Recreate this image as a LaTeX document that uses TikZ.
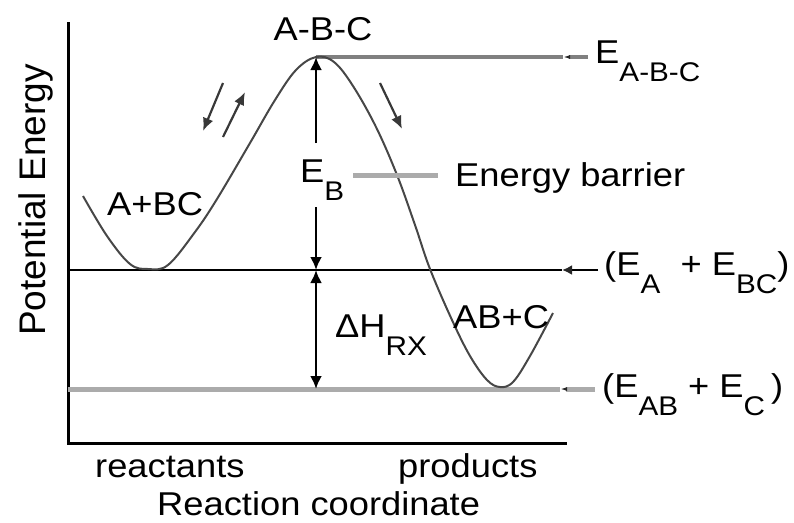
\documentclass[tikz,border=0pt]{standalone}
\usepackage{fontspec}
\setmainfont{Liberation Sans}
\usetikzlibrary{arrows.meta}
\newcommand\lsub[1]{\raisebox{-0.55em}{\fontsize{27}{27}\selectfont #1}}
\begin{document}
\begin{tikzpicture}[x=1pt,y=-1pt,
  lbl/.style={font=\fontsize{33}{36}\selectfont, inner sep=0pt, xscale=1.1},
  axisline/.style={line width=3pt, black},
  blackline/.style={line width=2.5pt, black},
  grayline/.style={line width=5pt, color=black!33},
  topline/.style={line width=3.5pt, color=black!50},
  curveline/.style={line width=2pt, color=black!72},
  tip/.style={-{Latex[length=13pt,width=12pt]}},
  sidetip/.style={-{Latex[length=10pt,width=10pt,color=black!85]}},
  smalltip/.style={-{Latex[length=13pt,width=11pt]}},
  vline/.style={line width=2.5pt, black}]
\useasboundingbox (0,0) rectangle (794,522);

% axes
\coordinate (ytop) at (68,22);
\coordinate (orig) at (68,443);
\coordinate (xend) at (567,443);
\draw[axisline] (ytop) -- (orig) -- (xend);

% reference levels
\coordinate (lvlA) at (68,270);
\coordinate (lvlAtip) at (562,270);
\coordinate (lvlAend) at (598,270);
\draw[blackline] (lvlA) -- (lvlAtip);
\draw[blackline, sidetip] (lvlAend) -- (lvlAtip);

\coordinate (lvlB) at (68,389);
\coordinate (lvlBtip) at (560,389);
\coordinate (lvlBend) at (595,389);
\draw[grayline] (lvlB) -- (lvlBtip);
\draw[line width=5pt, color=black!33, -{Latex[length=7pt,width=4pt,color=black!85]}] (lvlBend) -- (lvlBtip);

\coordinate (peak) at (316,57);
\coordinate (lvlTtip) at (563,57);
\coordinate (lvlTend) at (588,57);
\draw[topline] (peak) -- (lvlTtip);
\draw[line width=3.5pt, color=black!50, -{Latex[length=7pt,width=4pt,color=black!85]}] (lvlTend) -- (lvlTtip);

% energy curve
\draw[curveline] plot[smooth, tension=0.6] coordinates {
 (83,196) (107,236) (130,264) (148,269) (168,265) (195,232) (217,199)
 (250,143) (275,100) (296,70) (316,57) (334,62) (353,86) (376,127)
 (397,175) (415,225) (430,269) (452,320) (470,356) (487,380) (500,387)
 (513,382) (530,356) (553,313)};

% vertical arrows
\coordinate (ebtop) at (316,143);
\coordinate (ebbot) at (316,207);
\coordinate (mid) at (316,270);
\coordinate (low) at (316,389);
\draw[vline, tip] (ebtop) -- (peak);
\draw[vline, tip] (ebbot) -- (mid);
\coordinate (dh) at (316,330);
\draw[vline, tip] (dh) -- (mid);
\draw[vline, tip] (dh) -- (low);

% energy barrier pointer
\coordinate (ebl) at (353,175);
\coordinate (ebr) at (438,175);
\draw[grayline] (ebl) -- (ebr);

% small direction arrows
\coordinate (a1s) at (223,83);  \coordinate (a1e) at (203,131);
\coordinate (a2s) at (223,137); \coordinate (a2e) at (245,92);
\coordinate (a3s) at (380,83);  \coordinate (a3e) at (402,129);
\draw[line width=2.2pt, color=black!78, smalltip] (a1s) -- (a1e);
\draw[line width=2.2pt, color=black!78, smalltip] (a2s) -- (a2e);
\draw[line width=2.2pt, color=black!78, smalltip] (a3s) -- (a3e);

% labels
\node[lbl, anchor=base] (tsl) at (323,40) {A-B-C};
\node[lbl, anchor=base west] (eabc) at (595,63) {E\lsub{A-B-C}};
\node[lbl, anchor=base west] (eaebc) at (604,275) {(E\lsub{A}\ \ + E\lsub{BC})};
\node[lbl, anchor=base west] (eabec) at (602,397) {(E\lsub{AB} + E\lsub{C}\,)};
\node[lbl, anchor=base west] (eb) at (300,182) {E\lsub{B}};
\node[lbl, anchor=base west] (ebar) at (455,186) {Energy barrier};
\node[lbl, anchor=base west] (dhrx) at (335,337) {ΔH\lsub{RX}};
\node[lbl, anchor=base west] (abc) at (107,215) {A+BC};
\node[lbl, anchor=base west] (abpc) at (453,328) {AB+C};
\node[lbl, anchor=base west] (reac) at (95,477) {reactants};
\node[lbl, anchor=base west] (prod) at (398,477) {products};
\node[lbl, anchor=base west] (rc) at (157,515) {Reaction coordinate};
\node[font=\fontsize{37}{39}\selectfont, inner sep=0pt, anchor=base, rotate=90] (pe) at (45,200) {Potential Energy};
\end{tikzpicture}
\end{document}
